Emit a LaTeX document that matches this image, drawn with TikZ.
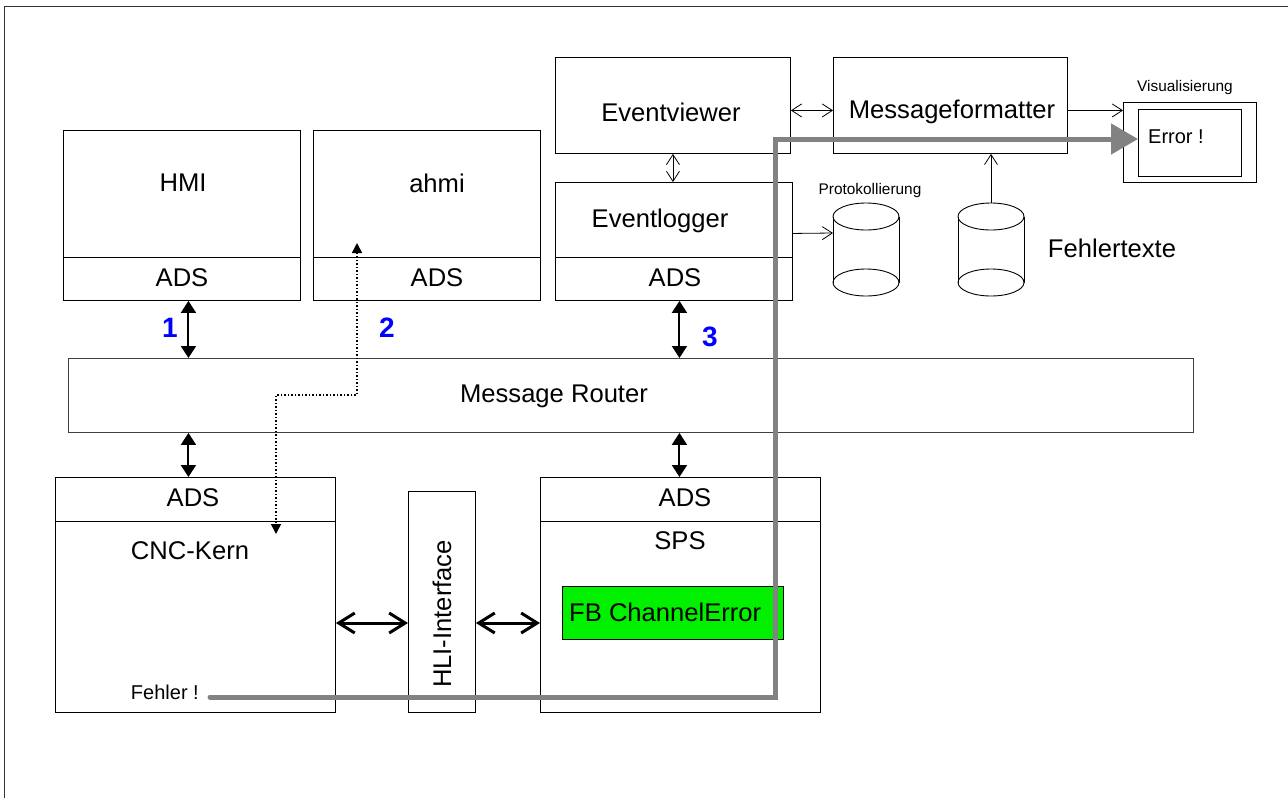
\documentclass[tikz,border=0pt]{standalone}
\usepackage{fontspec}
\setmainfont{Liberation Sans}
\usetikzlibrary{arrows.meta}
\definecolor{fbgreen}{RGB}{0,240,0}
\definecolor{pathgray}{RGB}{130,130,130}
\begin{document}
\begin{tikzpicture}[x=1pt,y=-1pt,
  box/.style={draw, line width=0.9pt, rectangle, inner sep=0pt, anchor=north west},
  big/.style={font=\fontsize{25.6}{30}\selectfont, inner sep=0pt},
  mid/.style={font=\fontsize{20}{24}\selectfont, inner sep=0pt},
  small/.style={font=\fontsize{15.4}{18}\selectfont, inner sep=0pt},
  num/.style={font=\fontsize{28}{32}\selectfont\bfseries, text=blue, inner sep=0pt},
  thinarr/.style={line width=0.8pt, {Straight Barb[length=10pt,width=13pt]}-{Straight Barb[length=10pt,width=13pt]}},
  thinto/.style={line width=0.8pt, -{Straight Barb[length=10pt,width=13pt]}},
  boldarr/.style={line width=2pt, {Triangle[length=12pt,width=15pt]}-{Triangle[length=12pt,width=15pt]}},
  hliarr/.style={line width=3pt, {Straight Barb[length=16pt,width=20pt]}-{Straight Barb[length=16pt,width=20pt]}},
  dotarr/.style={line width=1.5pt, dotted, {Triangle[length=10pt,width=10pt]}-{Triangle[length=10pt,width=10pt]}},
  errpath/.style={pathgray, line width=5pt, line cap=round, -{Triangle[length=27pt,width=30pt]}},
]
\useasboundingbox (0,0) rectangle (1288,798);
% frame
\draw[line width=1pt, black!80] (1288,6) -- (4,6) -- (4,798);

% HMI
\node[box, minimum width=237, minimum height=127] (hmi) at (63,130) {};
\node[box, minimum width=237, minimum height=43] (hmiads) at (63,257) {};
\node[big] (hmiT) at (183,183) {HMI};
\node[big] (hmiadsT) at (182,278) {ADS};
% ahmi
\node[box, minimum width=227, minimum height=127] (ahmi) at (313,130) {};
\node[box, minimum width=227, minimum height=43] (ahmiads) at (313,257) {};
\node[big] (ahmiT) at (437,183) {ahmi};
\node[big] (ahmiadsT) at (437,278) {ADS};
% Eventviewer
\node[box, minimum width=235, minimum height=96] (ev) at (555,57) {};
\node[big] (evT) at (671,112) {Eventviewer};
% Eventlogger
\node[box, minimum width=237, minimum height=75] (el) at (555,182) {};
\node[box, minimum width=237, minimum height=43] (elads) at (555,257) {};
\node[big] (elT) at (660,221) {Eventlogger};
\node[big] (eladsT) at (675,278) {ADS};
% Messageformatter
\node[box, minimum width=234, minimum height=96] (mf) at (833,57) {};
\node[big] (mfT) at (952,112) {Messageformatter};
% Visualisierung
\node[box, minimum width=133, minimum height=80] (vis) at (1123,102) {};
\node[box, minimum width=103, minimum height=67] (visin) at (1138,109) {};
\node[small] (visT) at (1185,88) {Visualisierung};
\node[mid, anchor=west] (errT) at (1148,137) {Error !};

% cylinders
\coordinate (cyl1top) at (866,203);
\coordinate (cyl1left) at (833,233);
\draw[line width=0.9pt] (833,216.5) -- (833,282.5) (899,216.5) -- (899,282.5);
\draw[line width=0.9pt] (866,216.5) ellipse [x radius=33, y radius=13.5];
\draw[line width=0.9pt] (866,282.5) ellipse [x radius=33, y radius=13.5];
\node[small] (protT) at (870,191) {Protokollierung};
\coordinate (cyl2top) at (991,203);
\draw[line width=0.9pt] (958,216.5) -- (958,282.5) (1024,216.5) -- (1024,282.5);
\draw[line width=0.9pt] (991,216.5) ellipse [x radius=33, y radius=13.5];
\draw[line width=0.9pt] (991,282.5) ellipse [x radius=33, y radius=13.5];
\node[big] (fehlT) at (1112,248) {Fehlertexte};

% Message Router
\node[box, minimum width=1125, minimum height=74, draw=black!75] (router) at (68,358) {};
\node[big] (routerT) at (554,396) {Message Router};

% CNC
\node[box, minimum width=280, minimum height=44] (cncads) at (55,477) {};
\node[box, minimum width=280, minimum height=191] (cnc) at (55,521) {};
\node[big] (cncadsT) at (193,498) {ADS};
\node[big] (cncT) at (190,551) {CNC-Kern};
\node[mid, anchor=east] (fehler) at (199,692) {Fehler !};
% HLI
\node[box, minimum width=67, minimum height=221] (hli) at (408,491) {};
\node[big, rotate=90] (hliT) at (442,614) {HLI-Interface};
% SPS
\node[box, minimum width=280, minimum height=44] (spsads) at (540,477) {};
\node[box, minimum width=280, minimum height=191] (sps) at (540,521) {};
\node[big] (spsadsT) at (685,498) {ADS};
\node[big] (spsT) at (680,541) {SPS};
\node[box, fill=fbgreen, minimum width=221, minimum height=53] (fb) at (562,586) {};
\node[big, anchor=west] (fbT) at (569,612) {FB ChannelError};

% numbers
\node[num] (n1) at (170,328) {1};
\node[num] (n2) at (387,328) {2};
\node[num] (n3) at (710,337) {3};

% connectors
\draw[boldarr] ([xshift=6.5pt]hmiads.south) -- ([xshift=6.5pt]hmiads.south |- router.north);
\draw[boldarr] ([xshift=5.5pt]elads.south) -- ([xshift=5.5pt]elads.south |- router.north);
\draw[boldarr] ([xshift=-7pt]cncads.north |- router.south) -- ([xshift=-7pt]cncads.north);
\draw[boldarr] ([xshift=-1pt]spsads.north |- router.south) -- ([xshift=-1pt]spsads.north);
\draw[hliarr] (cnc.east |- 0,623) -- (hli.west |- 0,623);
\draw[hliarr] (hli.east |- 0,623) -- (sps.west |- 0,623);

\coordinate (d1) at (357,243);
\coordinate (d2) at (357,395);
\coordinate (d3) at (276,395);
\coordinate (d4) at (276,534);
\draw[dotarr] (d1) -- (d2) -- (d3) -- (d4);

\draw[thinarr] (ev.south) -- (ev.south |- el.north);
\draw[thinarr] ([yshift=-5pt]ev.east) -- ([yshift=-5pt]mf.west);
\draw[thinto] ([yshift=-5pt]mf.east) -- ([yshift=-5pt]mf.east -| vis.west);
\draw[thinto] ([yshift=-13.5pt]el.east) -- (cyl1left);
\draw[thinto] (cyl2top) -- (cyl2top |- mf.south);

\coordinate (g1) at (775,697);
\coordinate (g2) at (775,139);
\draw[errpath] ([xshift=11pt]fehler.east |- g1) -- (g1) -- (g2) -- (g2 -| visin.west);
\end{tikzpicture}
\end{document}
